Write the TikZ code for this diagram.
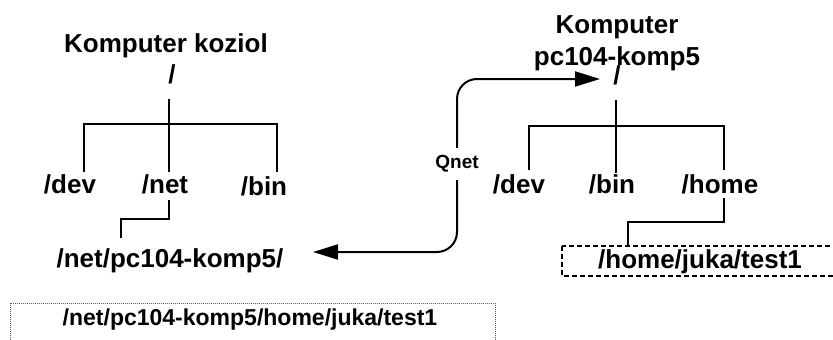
\documentclass[tikz,border=0pt]{standalone}
\usepackage{fontspec}
\setmainfont{Liberation Sans}
\usetikzlibrary{arrows.meta}
\begin{document}
\begin{tikzpicture}[x=1pt,y=-1pt,
  lbl/.style={font=\bfseries\fontsize{26}{28}\selectfont, inner sep=0pt, anchor=base},
  tree/.style={line width=2pt},
  conn/.style={line width=2pt, rounded corners=20pt, -{Triangle[length=25pt,width=15pt]}}]
\useasboundingbox (0,0) rectangle (833,340);
\clip (0,0) rectangle (833,340);
% ---------- left computer ----------
\node[lbl] (kozT) at (166,52) {Komputer koziol};
\node[lbl] (rootL) at (172,83) {/};
\node[lbl] (devL) at (70,193) {/dev};
\node[lbl] (netL) at (165,193) {/net};
\node[lbl] (binL) at (264,195) {/bin};
\node[lbl] (pcL) at (170,267) {/net/pc104-komp5/};
\coordinate (lRootB) at (169,99);
\coordinate (lNetT) at (169,172);
\coordinate (lDevT) at (84,172);
\coordinate (lBinT) at (277,172);
\coordinate (lHy) at (0,124);
\coordinate (lNetB) at (169,200);
\coordinate (lPcT) at (121,238);
\draw[tree] (lRootB) -- (lNetT);
\draw[tree] (lDevT) -- (lDevT |- lHy) -- (lBinT |- lHy) -- (lBinT);
\draw[tree] (lNetB) -- (169,219) -- (121,219) -- (lPcT);
% ---------- right computer ----------
\node[lbl] (kR1) at (617,33) {Komputer};
\node[lbl] (kR2) at (617,65) {pc104-komp5};
\node[lbl] (rootR) at (617,84) {/};
\node[lbl] (devR) at (519,193) {/dev};
\node[lbl] (binR) at (612,193) {/bin};
\node[lbl] (homeR) at (720,193) {/home};
\node[lbl] (testR) at (700,268) {/home/juka/test1};
\coordinate (rRootB) at (616,100);
\coordinate (rBinT) at (616,173);
\coordinate (rDevT) at (529,170);
\coordinate (rHomeT) at (724,170);
\coordinate (rHy) at (0,126);
\coordinate (rHomeB) at (724,198);
\coordinate (rBoxT) at (628,246);
\draw[tree] (rRootB) -- (rBinT);
\draw[tree] (rDevT) -- (rDevT |- rHy) -- (rHomeT |- rHy) -- (rHomeT);
\draw[tree] (rHomeB) -- (724,222) -- (628,222) -- (rBoxT);
\draw[line width=1.5pt, dashed, dash pattern=on 5pt off 3pt] (562,246) rectangle (850,276);
% ---------- Qnet ----------
\node[font=\bfseries\fontsize{19}{20}\selectfont, inner sep=0pt, minimum height=32pt] (qnet) at (457,164) {Qnet};
\coordinate (qTipR) at (600,79);
\coordinate (qTipL) at (313,252);
\draw[conn] (qnet.north) |- (qTipR);
\draw[conn] (qnet.south) |- (qTipL);
% ---------- bottom box ----------
\draw[line width=1pt, gray!70!black, densely dotted] (10,303) rectangle (495,360);
\node[font=\bfseries\fontsize{23}{25}\selectfont, inner sep=0pt, anchor=base] (full) at (250,325) {/net/pc104-komp5/home/juka/test1};
\end{tikzpicture}
\end{document}
